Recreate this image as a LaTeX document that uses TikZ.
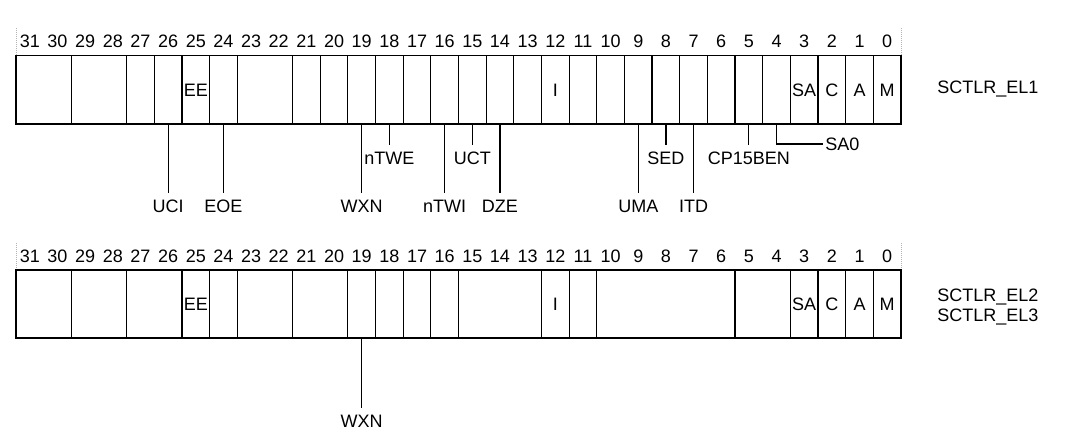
\documentclass[tikz,border=0pt]{standalone}
\usepackage{fontspec}
\setmainfont{Liberation Sans}
\usetikzlibrary{positioning}

\begin{document}
\begin{tikzpicture}[
        x = 0.75pt, y = -0.75pt,
        font = \fontsize{13.5}{16}\selectfont,
        bitnum/.style = {inner sep = 0pt},
        field/.style = {inner sep = 0pt},
        regname/.style = {anchor = west, inner sep = 0pt},
        flag/.style = {anchor = north, inner xsep = 1pt, inner ysep = 4.8pt},
        guide/.style = {draw = gray!60, densely dotted, line width = 0.5pt},
        frame/.style = {draw = black, line width = 0.9pt},
        lead/.style = {draw = black, line width = 0.9pt}
    ]

      \useasboundingbox (0,0) rectangle (1067,437);

      % bit numbers over both registers
      \foreach \b in {0,...,31} {
            \node[bitnum] (ta\b) at ({16+(31.5-\b)*27.656}, 41) {\b};
            \node[bitnum] (tb\b) at ({16+(31.5-\b)*27.656}, 256) {\b};
      }

      \draw[guide] (16,28) -- (16,55.7)  (901,28) -- (901,55.7);
      \draw[guide] (16,243) -- (16,270)  (901,243) -- (901,270);


      % SCTLR_EL1
      \draw[frame] (16,55.7) rectangle (901,124);
      \foreach \k in {30,28,27,26,25,24,22,21,20,19,18,17,16,15,14,13,12,11,10,9,8,7,6,5,4,3,2,1}
            \draw[frame] ({16+(32-\k)*27.656}, 55.7) -- ({16+(32-\k)*27.656}, 124);

      \node[field] (eeA) at ({16+(31.5-25)*27.656}, 90) {EE};
      \node[field] (iA)  at ({16+(31.5-12)*27.656}, 90) {I};
      \node[field] (saA) at ({16+(31.5-3)*27.656}, 90) {SA};
      \node[field] (cA)  at ({16+(31.5-2)*27.656}, 90) {C};
      \node[field] (aA)  at ({16+(31.5-1)*27.656}, 90) {A};
      \node[field] (mA)  at ({16+(31.5-0)*27.656}, 90) {M};

      \node[regname] (el1) at (937,89) {SCTLR\_EL1};

      \foreach \b in {26,24,19,18,16,15,14,9,8,7,5,4}
            \coordinate (fa\b) at ({16+(31.5-\b)*27.656}, 124);

      \node[flag] (uci)    at ({16+(31.5-26)*27.656}, 193) {UCI};
      \node[flag] (eoe)    at ({16+(31.5-24)*27.656}, 193) {EOE};
      \node[flag] (wxnA)   at ({16+(31.5-19)*27.656}, 193) {WXN};
      \node[flag] (ntwe)   at ({16+(31.5-18)*27.656}, 145) {nTWE};
      \node[flag] (ntwi)   at ({16+(31.5-16)*27.656}, 193) {nTWI};
      \node[flag] (uct)    at ({16+(31.5-15)*27.656}, 145) {UCT};
      \node[flag] (dze)    at ({16+(31.5-14)*27.656}, 193) {DZE};
      \node[flag] (uma)    at ({16+(31.5-9)*27.656}, 193) {UMA};
      \node[flag] (sed)    at ({16+(31.5-8)*27.656}, 145) {SED};
      \node[flag] (itd)    at ({16+(31.5-7)*27.656}, 193) {ITD};
      \node[flag] (cp15)   at ({16+(31.5-5)*27.656}, 145) {CP15BEN};
      \node[anchor = west, inner xsep = 1.5pt, inner ysep = 1pt] (sa0) at (823,144) {SA0};

      \path[lead]
            (fa26) edge (uci)
            (fa24) edge (eoe)
            (fa19) edge (wxnA)
            (fa18) edge (ntwe)
            (fa16) edge (ntwi)
            (fa15) edge (uct)
            (fa14) edge (dze)
            (fa9)  edge (uma)
            (fa8)  edge (sed)
            (fa7)  edge (itd)
            (fa5)  edge (cp15);
      \draw[lead] (fa4) |- (sa0);


      % SCTLR_EL2 / SCTLR_EL3
      \draw[frame] (16,270) rectangle (901,338);
      \foreach \k in {30,28,26,25,24,22,20,19,18,17,16,13,12,11,6,4,3,2,1}
            \draw[frame] ({16+(32-\k)*27.656}, 270) -- ({16+(32-\k)*27.656}, 338);

      \node[field] (eeB) at ({16+(31.5-25)*27.656}, 304) {EE};
      \node[field] (iB)  at ({16+(31.5-12)*27.656}, 304) {I};
      \node[field] (saB) at ({16+(31.5-3)*27.656}, 304) {SA};
      \node[field] (cB)  at ({16+(31.5-2)*27.656}, 304) {C};
      \node[field] (aB)  at ({16+(31.5-1)*27.656}, 304) {A};
      \node[field] (mB)  at ({16+(31.5-0)*27.656}, 304) {M};

      \node[regname] (el2) at (937,297) {SCTLR\_EL2};
      \node[regname] (el3) at (937,317) {SCTLR\_EL3};

      \coordinate (fb19) at ({16+(31.5-19)*27.656}, 338);
      \node[flag] (wxnB) at ({16+(31.5-19)*27.656}, 408) {WXN};
      \draw[lead] (fb19) -- (wxnB);

    \end{tikzpicture}
\end{document}
